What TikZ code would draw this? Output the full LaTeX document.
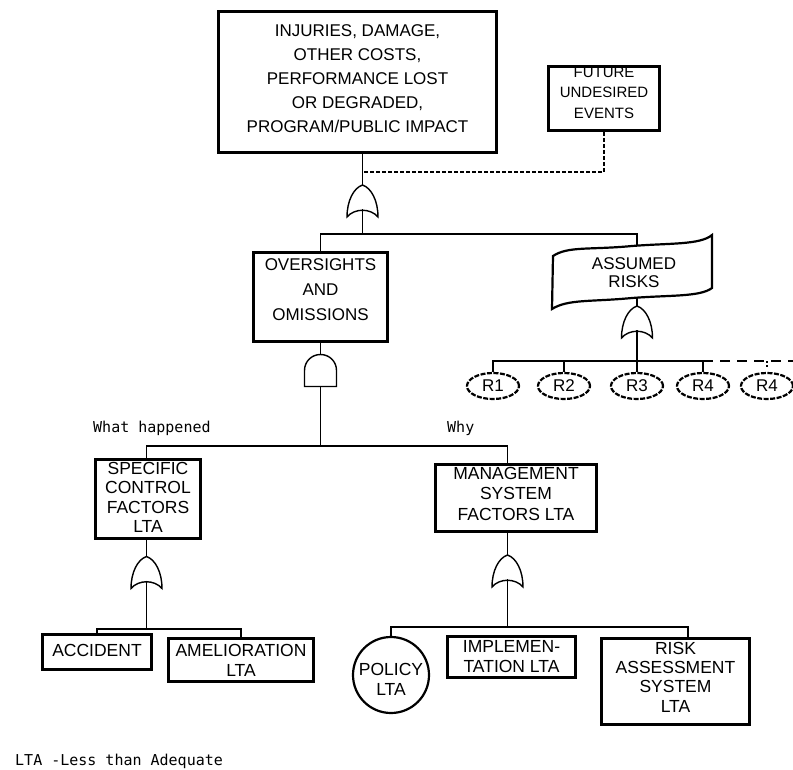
\documentclass[tikz,border=0pt]{standalone}
\usepackage{fontspec}
\setmainfont{Liberation Sans}
\newfontfamily\pixmono{DejaVu Sans Mono}
\usetikzlibrary{shapes.geometric,calc}
\tikzset{
  box/.style={draw, line width=2.8pt, inner sep=0pt, align=center},
  conn/.style={line width=1.4pt},
  dline/.style={line width=2.8pt, dash pattern=on 4pt off 2pt},
  orgate/.style={inner sep=0pt, outer sep=-2pt, minimum width=36pt, minimum height=36pt,
    path picture={\draw[line width=1.4pt, shift={(path picture bounding box.center)}]
      (-15.5,16) .. controls (-15.5,0) and (-9,-13) .. (0,-16)
      .. controls (9,-13) and (15.5,0) .. (15.5,16)
      .. controls (8,7) and (-8,7) .. cycle;}},
  andgate/.style={inner sep=0pt, outer sep=-2pt, minimum width=36pt, minimum height=36pt,
    path picture={\draw[line width=1.4pt, shift={(path picture bounding box.center)}]
      (-16,16) -- (-16,0) .. controls (-16,-9) and (-9,-16) .. (0,-16)
      .. controls (9,-16) and (16,-9) .. (16,0) -- (16,16) -- cycle;}},
  rball/.style={ellipse, draw, line width=2.2pt, dash pattern=on 5pt off 1.5pt,
    minimum width=52pt, minimum height=26pt, inner sep=0pt, font=\fontsize{17}{17}\selectfont},
  mono/.style={inner sep=0pt, anchor=base west, font=\pixmono\fontsize{15}{15}\selectfont}
}
\begin{document}
\begin{tikzpicture}[x=1pt,y=-1pt]
\useasboundingbox (0,0) rectangle (793,769);

% boxes
\node[box, font=\fontsize{17}{24}\selectfont, minimum width=278pt, minimum height=141pt, text depth=6pt]
  (top) at (357.5,82) {INJURIES, DAMAGE,\\OTHER COSTS,\\PERFORMANCE LOST\\OR DEGRADED,\\PROGRAM/PUBLIC IMPACT};
\node[box, font=\fontsize{15}{20.5}\selectfont, minimum width=111pt, minimum height=64pt, text depth=12pt]
  (fut) at (604,98.5) {FUTURE\\UNDESIRED\\EVENTS};
\node[box, font=\fontsize{17}{25}\selectfont, minimum width=134pt, minimum height=89pt, text depth=14pt]
  (os) at (320.5,297) {OVERSIGHTS\\AND\\OMISSIONS};
\node[box, font=\fontsize{17.5}{19.5}\selectfont, minimum width=105pt, minimum height=79pt, text depth=3pt]
  (scf) at (148,499) {SPECIFIC\\CONTROL\\FACTORS\\LTA};
\node[box, font=\fontsize{17.5}{20.5}\selectfont, minimum width=161pt, minimum height=67pt, text depth=9pt]
  (msf) at (516,498) {MANAGEMENT\\SYSTEM\\FACTORS LTA};
\node[box, font=\fontsize{17.5}{20}\selectfont, minimum width=109pt, minimum height=35pt, text depth=4pt]
  (acc) at (97,652) {ACCIDENT};
\node[box, font=\fontsize{17.5}{20}\selectfont, minimum width=145pt, minimum height=43pt]
  (ame) at (241,660) {AMELIORATION\\LTA};
\node[box, font=\fontsize{17.5}{20}\selectfont, minimum width=128pt, minimum height=41pt]
  (impl) at (511.5,657) {IMPLEMEN-\\TATION LTA};
\node[box, font=\fontsize{17.5}{19.3}\selectfont, minimum width=148pt, minimum height=86pt, text depth=9pt]
  (rsk) at (675.5,681.5) {RISK\\ASSESSMENT\\SYSTEM\\LTA};
\node[circle, draw, line width=2.2pt, minimum size=76pt, inner sep=0pt, align=center,
  font=\fontsize{17.5}{20}\selectfont, text height=40pt]
  (pol) at (391,675) {POLICY\\LTA};

% banner
\node[font=\fontsize{17}{18}\selectfont, align=center, inner sep=0pt] (ar) at (634,273) {ASSUMED\\RISKS};
\draw[line width=2.2pt] (553,256) .. controls (568,246) and (590,250) .. (632,246)
  .. controls (670,243) and (700,245) .. (712,235) -- (712,288)
  .. controls (700,297) and (670,295) .. (632,298)
  .. controls (590,302) and (568,299) .. (552,309) -- cycle;
\coordinate (arTop) at (637,246);
\coordinate (arBot) at (637,298);

% gates
\node[orgate] (g1) at (362.5,201) {};
\node[andgate] (g2) at (320.5,370.5) {};
\node[orgate] (g3) at (146.5,572.5) {};
\node[orgate] (g4) at (507.5,571) {};
\node[orgate] (g5) at (637,322) {};

% risk ellipses
\node[rball] (r1) at (493,386) {R1};
\node[rball] (r2) at (564,386) {R2};
\node[rball] (r3) at (637,386) {R3};
\node[rball] (r4) at (703,386) {R4};
\node[rball] (r5) at (767,386) {R4};

% junctions
\coordinate (j1) at (362.5,172);
\coordinate (b1) at (362.5,234);
\coordinate (b2) at (320.5,446);
\coordinate (b3) at (146.5,629);
\coordinate (b4) at (507.5,627);
\coordinate (b5) at (637,361);
\coordinate (bend) at (793,361);

% connectors
\draw[conn] (g1 |- top.south) -- (g1.north);
\draw[conn] ($(g1.center)+(0,8)$) -- (b1);
\draw[conn] (os.north) |- (b1) -| (arTop);
\draw[dline] (fut.south) |- (j1);
\draw[conn] (os.south) -- (g2.north);
\draw[conn] (g2.south) -- (b2);
\draw[conn] (g3 |- scf.north) |- (b2) -| (g4 |- msf.north);
\draw[conn] (g3 |- scf.south) -- (g3.north);
\draw[conn] (g4 |- msf.south) -- (g4.north);
\draw[conn] ($(g3.center)+(0,8)$) -- (b3);
\draw[conn] (acc.north) |- (b3) -| (ame.north);
\draw[conn] ($(g4.center)+(0,8)$) -- (b4);
\draw[conn] (pol.north) |- (b4) -| ([xshift=12.5pt]rsk.north);
\draw[conn] (arBot) -- (g5.north);
\draw[conn] ($(g5.center)+(0,8)$) -- (r3.north);
\draw[conn] (r1.north) |- (b5) -| (r4.north);
\draw[conn] (r2.north) -- (r2.north |- b5);
\draw[conn, dash pattern=on 10pt off 7pt] (r4.north |- b5) -- (bend);
\draw[conn, dash pattern=on 2pt off 2pt] (r5.north |- b5) -- ([yshift=4pt]r5.north);

% plain texts
\node[mono] (wh) at (93,432) {What happened};
\node[mono] (why) at (447,432) {Why};
\node[mono] (note) at (15,765) {LTA -Less than Adequate};
\end{tikzpicture}
\end{document}
